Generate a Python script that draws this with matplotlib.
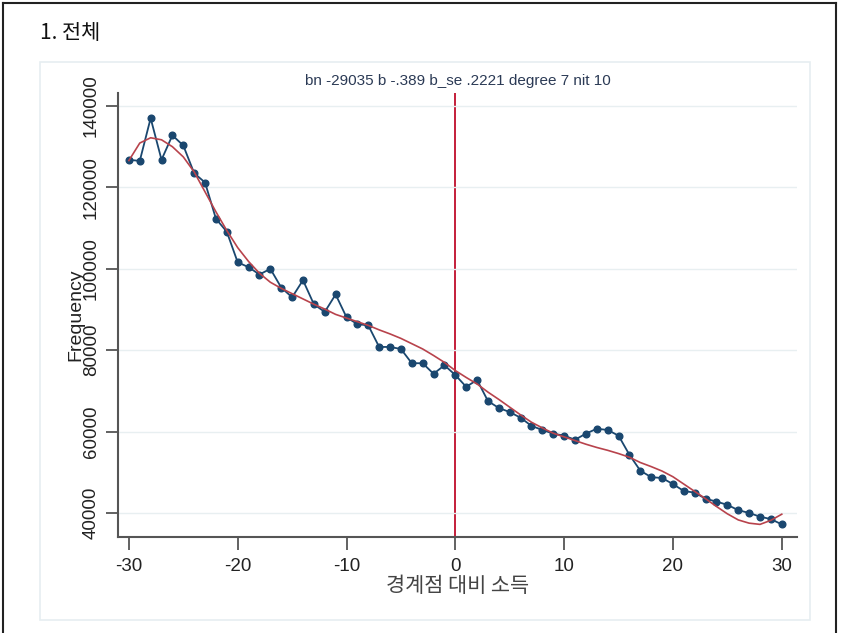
import numpy as np
import matplotlib
matplotlib.use("Agg")
import matplotlib.pyplot as plt
from matplotlib.lines import Line2D
from matplotlib.patches import Rectangle

plt.rcParams['font.family'] = ['Liberation Sans', 'Noto Sans CJK KR', 'DejaVu Sans']
plt.rcParams['axes.unicode_minus'] = False

# income relative to the threshold (bins) and observed counts
bins = list(range(-30, 31))
freq = [126800, 126500, 137000, 126800, 132800, 130300, 123500, 121200, 112300, 109100,
        101600, 100400, 98600, 100000, 95400, 93000, 97200, 91300, 89400, 93700,
        88100, 86400, 86100, 80800, 80800, 80300, 76800, 76800, 74200, 76300,
        73900, 71000, 72700, 67500, 65800, 64800, 63400, 61400, 60400, 59500,
        59000, 58000, 59500, 60700, 60400, 59000, 54300, 50400, 48800, 48600,
        47100, 45400, 45000, 43500, 42800, 42000, 40700, 40000, 39100, 38500,
        37200]

# counterfactual polynomial (degree 7)
fit = [126600, 130900, 132200, 131700, 130000, 127500, 123800, 118900, 114000, 109400,
       105200, 101800, 98900, 96700, 95200, 93900, 92600, 91300, 90100, 88800,
       87900, 87000, 86100, 85000, 84000, 82900, 81600, 80300, 78700, 77000,
       75000, 73300, 71700, 69700, 67900, 66000, 64100, 62300, 60900, 59600,
       58700, 57800, 56900, 56100, 55400, 54600, 53700, 52400, 51400, 50300,
       48900, 47100, 45300, 43500, 41600, 39800, 38300, 37500, 37200, 38200,
       39700]

yticks = [40000, 60000, 80000, 100000, 120000, 140000]
xticks = [-30, -20, -10, 0, 10, 20, 30]
note = "bn -29035 b -.389 b_se .2221 degree 7 nit 10"

W, H = 842, 633
fig = plt.figure(figsize=(W / 100, H / 100), dpi=100)

# outer frame (page border) and light graph region box
fig.add_artist(Line2D([3 / W, 3 / W], [0, 1 - 3 / H], color='#222222', lw=1.5))
fig.add_artist(Line2D([3 / W, 836 / W], [1 - 3 / H, 1 - 3 / H], color='#222222', lw=1.5))
fig.add_artist(Line2D([836 / W, 836 / W], [0, 1 - 3 / H], color='#222222', lw=1.5))
fig.add_artist(Rectangle((40 / W, 1 - 620 / H), 770 / W, 558 / H, fill=False,
                         edgecolor='#e6eef1', lw=1.2))

fig.text(40 / W, 1 - 33 / H, "1. 전체", fontsize=15, va='center', ha='left',
         family=['Noto Sans CJK KR'], color='#111111')

ax = fig.add_axes([118 / W, 1 - 537 / H, (797 - 118) / W, (537 - 93) / H])

ax.axvline(0, color='#c41e3a', lw=1.4, zorder=1)
ax.plot(bins, freq, color='#1a476f', lw=1.3, marker='o', markersize=4.8, zorder=3)
ax.plot(bins, fit, color='#b8434c', lw=1.2, zorder=4)

ax.set_xlim(-31.0, 31.4)
ax.set_ylim(34100, 143200)
ax.set_xticks(xticks)
ax.set_yticks(yticks)
ax.set_yticklabels([str(v) for v in yticks])
ax.tick_params(axis='y', labelrotation=90, length=9, width=1.3, color='#555555',
               pad=4, labelsize=13.5, labelcolor='#222222')
ax.tick_params(axis='x', length=9, width=1.3, color='#555555', pad=6,
               labelsize=13.5, labelcolor='#222222')
for lbl in ax.get_yticklabels():
    lbl.set_va('center')

ax.grid(axis='y', color='#e8eff1', lw=1.0, zorder=0)
for s in ['top', 'right']:
    ax.spines[s].set_visible(False)
for s in ['left', 'bottom']:
    ax.spines[s].set_color('#555555')
    ax.spines[s].set_linewidth(1.5)

ax.set_ylabel("Frequency", fontsize=14, color='#222222', labelpad=-1)
ax.set_xlabel("경계점 대비 소득", fontsize=15, color='#444444', labelpad=0,
              family=['Noto Sans CJK KR'])
ax.set_title(note, fontsize=11, color='#2b3a55', pad=6)

fig.savefig("out.png", dpi=100)
